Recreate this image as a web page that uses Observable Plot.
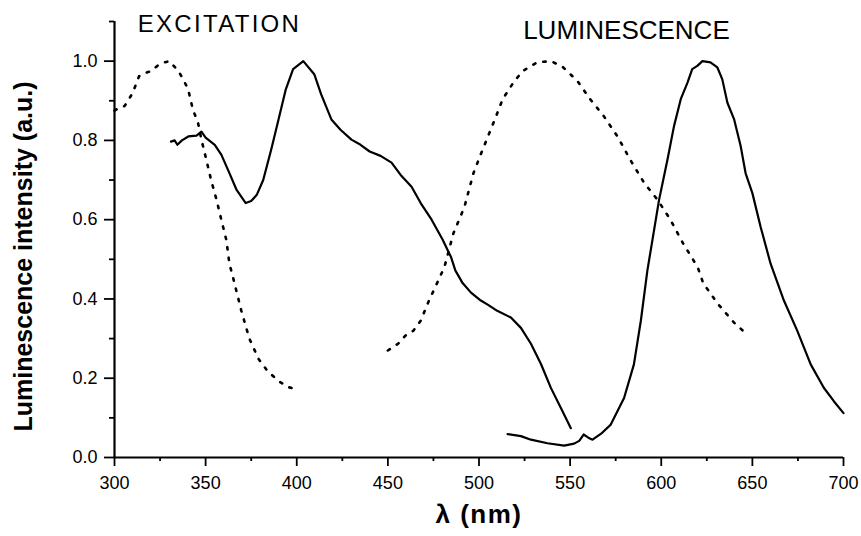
<!DOCTYPE html>
<html>
<head>
<meta charset="utf-8">
<script src="https://cdn.jsdelivr.net/npm/d3@7"></script>
<script src="https://cdn.jsdelivr.net/npm/@observablehq/plot@0.6"></script>
<style>
  html, body { margin: 0; padding: 0; background: #fff; }
  .spaced text { letter-spacing: 2.3px; }
  .xtitle text { letter-spacing: 1.5px; }
</style>
</head>
<body>
<div id="chart"></div>
<script>
// ---- Data ----
// Excitation spectrum, dotted
const excDotX = [300,303,305.6,310,313.5,315.7,320,324,327.6,330,334.9,337.6,340.4,343,345.8,347.7,350.4,353,356,358.6,361.4,363,365,369.6,374,379,384,390,395,400];
const excDotY = [0.875,0.883,0.887,0.92,0.962,0.968,0.975,0.99,0.997,1.0,0.976,0.955,0.929,0.878,0.845,0.802,0.751,0.70,0.65,0.60,0.548,0.49,0.455,0.37,0.30,0.249,0.218,0.193,0.178,0.172];
// Excitation spectrum, solid
const excSolX = [331,333,334.5,337,340.5,345,347.7,350,355,358.6,363,367,372,375,378,381.6,386,390,394,398,403.6,409.6,413.4,419,424,430,435,440,446,452,457,463,468,474,480,484.7,487,491,495.6,501,505,510,517.5,523,528.5,534,539.5,545,550.4];
const excSolY = [0.797,0.80,0.789,0.80,0.81,0.812,0.822,0.807,0.789,0.764,0.718,0.675,0.642,0.647,0.662,0.70,0.777,0.853,0.929,0.98,1.0,0.967,0.916,0.853,0.827,0.802,0.789,0.772,0.761,0.744,0.713,0.683,0.642,0.60,0.55,0.505,0.472,0.44,0.416,0.396,0.385,0.37,0.353,0.327,0.287,0.236,0.175,0.124,0.074];
// Luminescence spectrum, dotted
const lumDotX = [450,455.6,459.5,464,468,472,476,481,486,492,497,502,508,513,519,524,532,539.5,546,554,561,568.5,576,583,590.6,598,605,612,620,623,631,640,646];
const lumDotY = [0.27,0.287,0.307,0.32,0.345,0.39,0.43,0.48,0.566,0.632,0.718,0.777,0.845,0.904,0.947,0.975,0.997,1.0,0.985,0.95,0.904,0.861,0.81,0.751,0.693,0.65,0.60,0.54,0.48,0.44,0.388,0.34,0.315];
// Luminescence spectrum, solid
const lumSolX = [515.7,523,528.5,537.6,546.7,552.2,555,557.4,560,562.3,567,572.3,579.6,585,588.8,592.4,598.8,603.4,607,610.7,614.4,617,619.8,622.6,627,630.8,633.5,636.3,640,643.6,646.3,650,654.5,660,667.3,674.6,682,689.2,694.7,700];
const lumSolY = [0.059,0.054,0.045,0.036,0.030,0.035,0.042,0.058,0.05,0.045,0.06,0.083,0.15,0.235,0.345,0.472,0.65,0.751,0.836,0.904,0.946,0.98,0.988,1.0,0.997,0.984,0.954,0.895,0.853,0.785,0.717,0.667,0.582,0.489,0.396,0.32,0.235,0.176,0.142,0.112];

// Ticks
const xMajor = [300,350,400,450,500,550,600,650,700];
const xMinor = [325,375,425,475,525,575,625,675];
const yMajor = [0,0.2,0.4,0.6,0.8,1.0];
const yMinor = [0.1,0.3,0.5,0.7,0.9,1.1];

// Annotations
const labels = ["EXCITATION", "LUMINESCENCE"];
const labelX = [357.6, 580.9];
const labelY = [1.094, 1.078];
const xTitle = "λ (nm)";
const yTitle = "Luminescence intensity (a.u.)";

// ---- Build tables ----
const toRows = (xs, ys) => xs.map((x, i) => ({x, y: ys[i]}));
const excDot = toRows(excDotX, excDotY);
const excSol = toRows(excSolX, excSolY);
const lumDot = toRows(lumDotX, lumDotY);
const lumSol = toRows(lumSolX, lumSolY);

const font = "'Liberation Sans', Arial, Helvetica, sans-serif";
const dotted = {x: "x", y: "y", stroke: "#000", strokeWidth: 2.6, strokeDasharray: "2.4,8.2"};
const solid = {x: "x", y: "y", stroke: "#000", strokeWidth: 2.2};

const chart = Plot.plot({
  width: 861,
  height: 536,
  marginLeft: 114,
  marginRight: 18,
  marginTop: 21,
  marginBottom: 79,
  style: {fontFamily: font, fontSize: "18px", color: "#000", background: "#fff"},
  x: {domain: [300, 700]},
  y: {domain: [0, 1.1]},
  marks: [
    // axis lines
    Plot.ruleX([300], {stroke: "#000", strokeWidth: 2.2}),
    Plot.ruleY([0], {stroke: "#000", strokeWidth: 2.2}),
    // x axis
    Plot.axisX({ticks: xMajor, tickSize: 9, tickPadding: 10, strokeWidth: 1.8, label: null, tickFormat: d3.format("d")}),
    Plot.axisX({ticks: xMinor, tickSize: 4, strokeWidth: 1.8, text: null, label: null}),
    // y axis
    Plot.axisY({ticks: yMajor, tickSize: 10, tickPadding: 7, strokeWidth: 1.8, label: null, tickFormat: d3.format(".1f")}),
    Plot.axisY({ticks: yMinor, tickSize: 5, strokeWidth: 1.8, text: null, label: null}),
    // spectra
    Plot.line(excDot, dotted),
    Plot.line(excSol, solid),
    Plot.line(lumDot, dotted),
    Plot.line(lumSol, solid),
    // annotations
    Plot.text([labels[0]], {x: () => labelX[0], y: () => labelY[0], text: d => d, fontSize: 24, fill: "#000", lineAnchor: "middle", className: "spaced"}),
    Plot.text([labels[1]], {x: () => labelX[1], y: () => labelY[1], text: d => d, fontSize: 26, fill: "#000", lineAnchor: "middle"}),
    // axis titles
    Plot.text([xTitle], {frameAnchor: "bottom", text: d => d, dy: 57, fontSize: 26, fontWeight: "bold", fill: "#000", lineAnchor: "middle", textAnchor: "middle", className: "xtitle"}),
    Plot.text([yTitle], {frameAnchor: "left", text: d => d, rotate: -90, dx: -91, dy: 17, fontSize: 25, fontWeight: "bold", fill: "#000", lineAnchor: "middle", textAnchor: "middle"})
  ]
});
document.getElementById("chart").appendChild(chart);
</script>
</body>
</html>
